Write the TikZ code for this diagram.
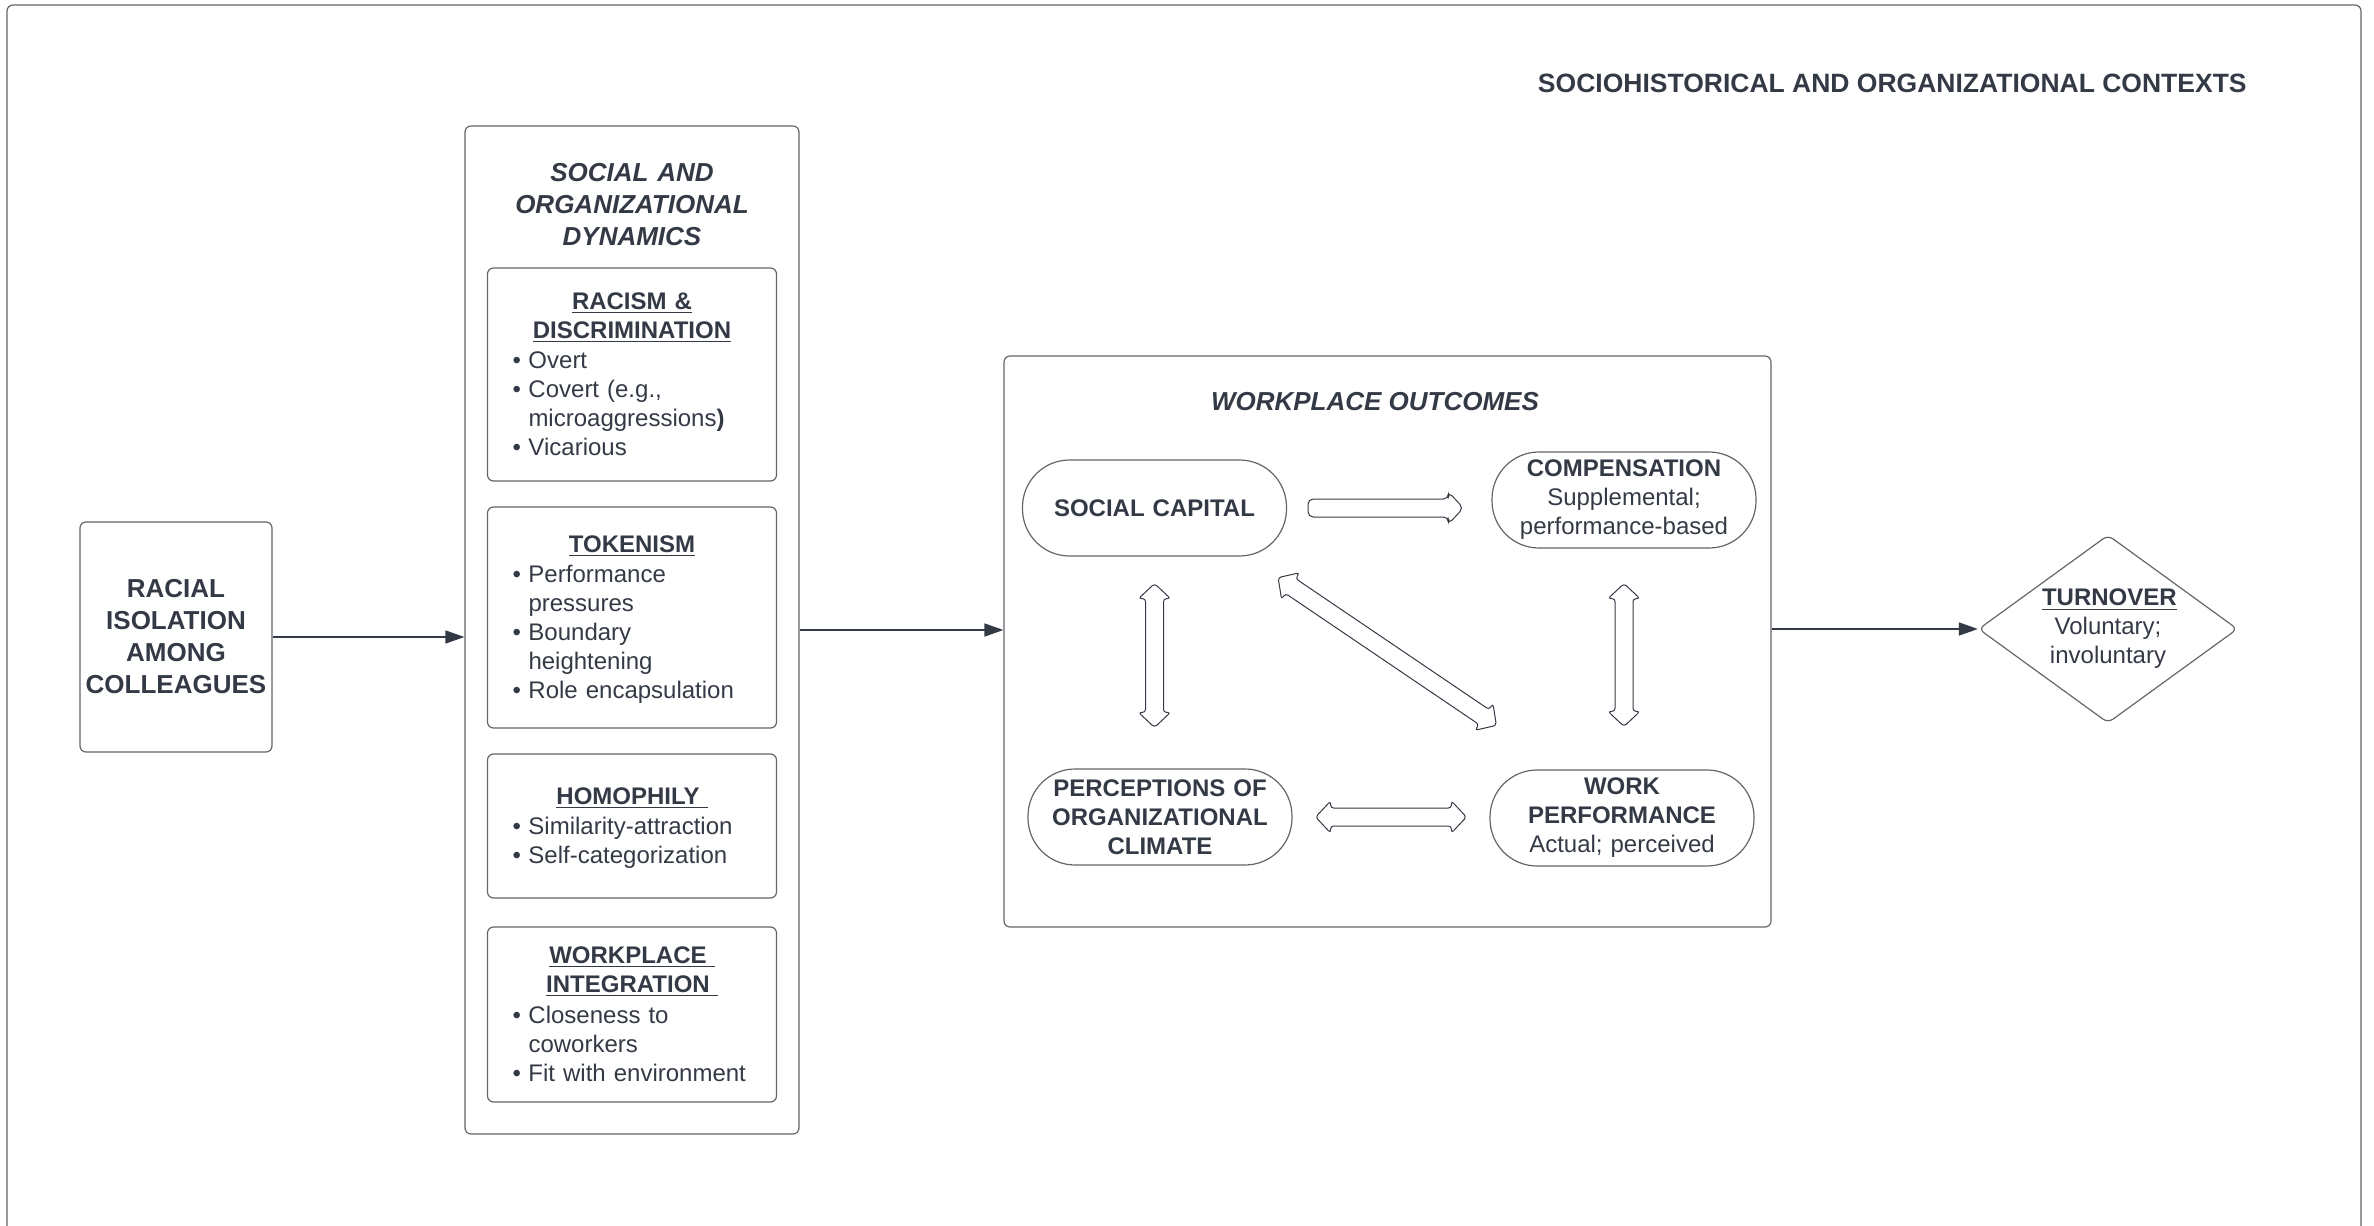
\documentclass[tikz,border=0pt]{standalone}
\usepackage{fontspec}
\setmainfont{Liberation Sans}
\usetikzlibrary{arrows.meta,calc,shapes.geometric}

\definecolor{ink}{RGB}{52,58,69}
\definecolor{edge}{RGB}{98,102,109}

\newcommand{\hd}[1]{\textbf{\underline{#1}}}
% bullet list: one row per printed line
\newenvironment{blist}{\par\vspace{2pt}\noindent\begin{tabular}{@{}p{8pt}@{}l@{}}}{\end{tabular}\par\vspace{-4pt}}

\tikzset{
	box/.style={draw=edge, line width=0.6pt, rounded corners=3pt},
	subbox/.style={box, minimum width=144.5pt, text width=119.5pt, inner xsep=12.5pt, inner ysep=0pt, align=left},
	stadium/.style={draw=edge, line width=0.6pt, rounded corners=23.5pt, minimum width=132pt, minimum height=48pt, text width=124pt, inner sep=1pt, align=center},
	flow/.style={draw=ink, line width=0.75pt, -{Triangle[length=9.5pt,width=6.5pt]}},
	% hollow block arrows, #1 and #2 = gaps at both ends
	dblblk/.style 2 args={draw=ink, line width=0.5pt, rounded corners=1.5pt,
		to path={
			($(\tikztostart)!#1!(\tikztotarget)$) coordinate (b1)
			($(\tikztotarget)!#2!(\tikztostart)$) coordinate (b2)
			($(b1)!7.5pt!(b2)$) coordinate (h1)
			($(b2)!7.5pt!(b1)$) coordinate (h2)
			(b1) -- ($(h1)!8pt!90:(b2)$) -- ($(h1)!4.5pt!90:(b2)$) -- ($(h2)!4.5pt!-90:(b1)$) -- ($(h2)!8pt!-90:(b1)$)
			-- (b2) -- ($(h2)!8pt!90:(b1)$) -- ($(h2)!4.5pt!90:(b1)$) -- ($(h1)!4.5pt!-90:(b2)$) -- ($(h1)!8pt!-90:(b2)$) -- cycle
		}},
	oneblk/.style 2 args={draw=ink, line width=0.5pt, rounded corners=2.5pt,
		to path={
			($(\tikztostart)!#1!(\tikztotarget)$) coordinate (b1)
			($(\tikztotarget)!#2!(\tikztostart)$) coordinate (b2)
			($(b2)!7.5pt!(b1)$) coordinate (h2)
			($(b1)!4.5pt!90:(b2)$) -- ($(h2)!4.5pt!-90:(b1)$) -- ($(h2)!8pt!-90:(b1)$)
			-- (b2) -- ($(h2)!8pt!90:(b1)$) -- ($(h2)!4.5pt!90:(b1)$) -- ($(b1)!4.5pt!-90:(b2)$) -- cycle
		}},
}

\begin{document}
\begin{tikzpicture}[x=0.5pt, y=-0.5pt, every node/.style={text=ink, font=\fontsize{12}{14.5}\selectfont}]
		\useasboundingbox (0,0) rectangle (2374,1226);
		% outer frame
		\draw[draw=edge, line width=0.6pt, rounded corners=3pt] (7,1226) -- (7,5) -- (2361,5) -- (2361,1226);
		\node[anchor=east, inner sep=0pt, font=\fontsize{13.25}{16}\selectfont\bfseries] (ctx) at (2247,83) {SOCIOHISTORICAL AND ORGANIZATIONAL CONTEXTS};
		% racial isolation
		\node[box, minimum width=96pt, minimum height=115pt, text width=96pt, inner sep=0pt, align=center, font=\fontsize{13}{16}\selectfont\bfseries] (iso) at (176,637) {RACIAL\\ISOLATION\\AMONG\\COLLEAGUES};
		% social and organizational dynamics
		\node[box, minimum width=167pt, minimum height=504pt] (dyn) at (632,630) {};
		\node[align=center, text width=150pt, font=\fontsize{13}{16}\selectfont\bfseries\itshape] (dyntitle) at (632,205) {SOCIAL AND\\ORGANIZATIONAL\\DYNAMICS};
		\node[subbox, minimum height=106.5pt] (racism) at (632,374.5) {{\centering\hd{RACISM \&}\\\hd{DISCRIMINATION}\par}
			\begin{blist}\textbullet&Overt\\\textbullet&Covert (e.g.,\\&microaggressions\textbf{)}\\\textbullet&Vicarious\end{blist}};
		\node[subbox, minimum height=110.5pt] (token) at (632,617.5) {{\centering\hd{TOKENISM}\par}
			\begin{blist}\textbullet&Performance\\&pressures\\\textbullet&Boundary\\&heightening\\\textbullet&Role encapsulation\end{blist}};
		\node[subbox, minimum height=72pt] (homo) at (632,826) {{\centering\hd{HOMOPHILY\ }\par}
			\begin{blist}\textbullet&Similarity-attraction\\\textbullet&Self-categorization\end{blist}};
		\node[subbox, minimum height=87.5pt] (integ) at (632,1014.5) {{\centering\hd{WORKPLACE\ }\\\hd{INTEGRATION\ }\par}
			\begin{blist}\textbullet&Closeness to\\&coworkers\\\textbullet&Fit with environment\end{blist}};
		% workplace outcomes
		\node[box, minimum width=383.5pt, minimum height=285.5pt] (wo) at (1387.5,641.5) {};
		\node[font=\fontsize{13}{16}\selectfont\bfseries\itshape] (wotitle) at (1375,402) {WORKPLACE OUTCOMES};
		\node[stadium] (sc) at (1154.5,508) {\textbf{SOCIAL CAPITAL}};
		\node[stadium] (comp) at (1624,500) {\textbf{COMPENSATION}\\Supplemental;\\performance-based};
		\node[stadium] (pc) at (1160,817) {\textbf{PERCEPTIONS OF\\ORGANIZATIONAL\\CLIMATE}};
		\node[stadium] (wp) at (1622,818) {\textbf{WORK\\PERFORMANCE}\\Actual; perceived};
		% turnover
		\node[diamond, draw=edge, line width=0.6pt, rounded corners=3pt, aspect=1.38, minimum width=129.5pt, minimum height=94pt, inner sep=0pt, text width=66pt, align=center] (turn) at (2108,629) {\hd{TURNOVER}\\Voluntary;\\involuntary};
		% arrows between the blocks
		\draw[flow] (iso.east) -- (iso.east -| dyn.west);
		\draw[flow] (dyn.east) -- (dyn.east -| wo.west);
		\draw[flow] (turn.west -| wo.east) -- (turn.west);
		% block arrows among the outcomes
		\draw[oneblk={10.5pt}{14pt}] (sc.east) to (sc.east -| comp.west);
		\draw[dblblk={13.5pt}{20.5pt}] (sc.south) to (sc.south |- pc.north);
		\draw[dblblk={17.5pt}{21.5pt}] (comp.south) to (comp.south |- wp.north);
		\draw[dblblk={11.5pt}{11.5pt}] (pc.east) to (pc.east -| wp.west);
		\draw[dblblk={0pt}{0pt}] ($(sc.south east)+(-9,21)$) to ($(wp.north west)+(7,-44)$);
\end{tikzpicture}
\end{document}
